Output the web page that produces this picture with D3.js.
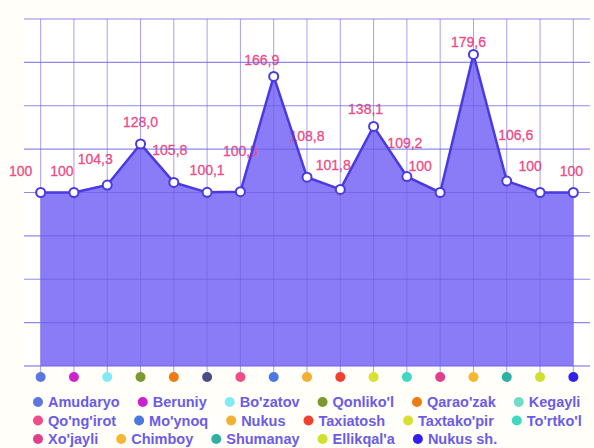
<!DOCTYPE html>
<html>
<head>
<meta charset="utf-8">
<script src="https://cdn.jsdelivr.net/npm/d3@7"></script>
<style>
  html, body { margin: 0; padding: 0; background: #fffef8; }
  svg { display: block; font-family: "Liberation Sans", Arial, sans-serif; }
</style>
</head>
<body>
<div id="chart"></div>
<script>
const regions = ["Amudaryo", "Beruniy", "Bo'zatov", "Qonliko'l", "Qarao'zak", "Kegayli",
  "Qo'ng'irot", "Mo'ynoq", "Nukus", "Taxiatosh", "Taxtako'pir", "To'rtko'l",
  "Xo'jayli", "Chimboy", "Shumanay", "Ellikqal'a", "Nukus sh."];

const values = [100, 100, 104.3, 128.0, 105.8, 100.1, 100.5, 166.9, 108.8,
  101.8, 138.1, 109.2, 100, 179.6, 106.6, 100, 100];

const valueLabels = ["100", "100", "104,3", "128,0", "105,8", "100,1", "100,5", "166,9", "108,8",
  "101,8", "138,1", "109,2", "100", "179,6", "106,6", "100", "100"];

const legendColors = ["#5b78e0", "#cc22cc", "#80eaf5", "#7a9a30", "#ee7a12", "#70dcc8",
  "#f04c88", "#4a78e0", "#f0b030", "#f04030", "#d8e030", "#40d8c0",
  "#e0408a", "#f5b830", "#30b0a0", "#d0e030", "#3020ee"];

// the dots under the axis use the same set, except Kegayli which is drawn dark there
const dotColors = legendColors.map((c, i) => i === 5 ? "#4a4c88" : c);

const yTicks = [0, 25, 50, 75, 100, 125, 150, 175, 200];

// the labels in the picture are nudged around a bit so they don't overlap
const labelNudge = [[-20, -17], [-12, -17], [-12, -21], [0, -17], [-4, -27], [0, -17],
  [0, -36], [-12, -11], [0, -36], [-7, -19], [-8, -12], [-2, -29],
  [-20, -22], [-5, -7], [9, -41], [-10, -22], [-2, -17]];

const width = 594, height = 448;
const margin = {top: 19, right: 4, bottom: 82, left: 24};

const svg = d3.select("#chart").append("svg")
  .attr("width", width)
  .attr("height", height);

const x = d3.scalePoint()
  .domain(regions)
  .range([margin.left, width - margin.right])
  .padding(0.5);

const y = d3.scaleLinear()
  .domain([0, 200])
  .range([height - margin.bottom, margin.top]);

// plot background
svg.append("rect")
  .attr("x", margin.left)
  .attr("y", margin.top)
  .attr("width", width - margin.left - margin.right)
  .attr("height", y(0) - margin.top)
  .attr("fill", "#ffffff");

// area
const area = d3.area()
  .x((d, i) => x(regions[i]))
  .y0(y(0))
  .y1(d => y(d));

svg.append("path")
  .datum(values)
  .attr("d", area)
  .attr("fill", "#8a7cf6");

// value labels (grid is drawn over them, like in the original)
svg.append("g")
  .selectAll("text")
  .data(values)
  .enter().append("text")
  .attr("x", (d, i) => x(regions[i]) + labelNudge[i][0])
  .attr("y", (d, i) => y(d) + labelNudge[i][1])
  .attr("text-anchor", "middle")
  .attr("font-size", 14)
  .attr("fill", "#ec4c86")
  .attr("stroke", "#ec4c86")
  .attr("stroke-width", 0.3)
  .text((d, i) => valueLabels[i]);

// grid
svg.append("g")
  .selectAll("line")
  .data(yTicks)
  .enter().append("line")
  .attr("x1", margin.left)
  .attr("x2", width - margin.right)
  .attr("y1", d => y(d))
  .attr("y2", d => y(d))
  .attr("stroke", "#6e60e4")
  .attr("stroke-opacity", d => d === 0 ? 1 : 0.75)
  .attr("stroke-width", 1.2);

svg.append("g")
  .selectAll("line")
  .data(regions)
  .enter().append("line")
  .attr("x1", d => x(d))
  .attr("x2", d => x(d))
  .attr("y1", y(200))
  .attr("y2", y(0) + 6)
  .attr("stroke", "#6e60e4")
  .attr("stroke-opacity", 0.6)
  .attr("stroke-width", 1);

// line
const line = d3.line()
  .x((d, i) => x(regions[i]))
  .y(d => y(d));

svg.append("path")
  .datum(values)
  .attr("d", line)
  .attr("fill", "none")
  .attr("stroke", "#4a3ae2")
  .attr("stroke-width", 2.5)
  .attr("stroke-linejoin", "round");

// points
svg.append("g")
  .selectAll("circle")
  .data(values)
  .enter().append("circle")
  .attr("cx", (d, i) => x(regions[i]))
  .attr("cy", d => y(d))
  .attr("r", 4.5)
  .attr("fill", "#ffffff")
  .attr("stroke", "#4a3ae2")
  .attr("stroke-width", 2);

// coloured dots under the axis
svg.append("g")
  .selectAll("circle")
  .data(regions)
  .enter().append("circle")
  .attr("cx", d => x(d))
  .attr("cy", y(0) + 11)
  .attr("r", 5)
  .attr("fill", (d, i) => dotColors[i]);

// legend: 6 per row, items flow left to right
const perRow = 6;
const legend = svg.append("g");
const rowY = [402, 420.5, 439];
let cursor = 0;

regions.forEach((name, i) => {
  const row = Math.floor(i / perRow);
  if (i % perRow === 0) cursor = 38;
  const item = legend.append("g")
    .attr("transform", `translate(${cursor},${rowY[row]})`);
  item.append("circle")
    .attr("r", 5)
    .attr("fill", legendColors[i]);
  const t = item.append("text")
    .attr("x", 10)
    .attr("dy", "0.36em")
    .attr("font-size", 14.5)
    .attr("font-weight", "bold")
    .attr("fill", "#6b5ce7")
    .text(name);
  cursor += 10 + t.node().getComputedTextLength() + 23;
});
</script>
</body>
</html>
